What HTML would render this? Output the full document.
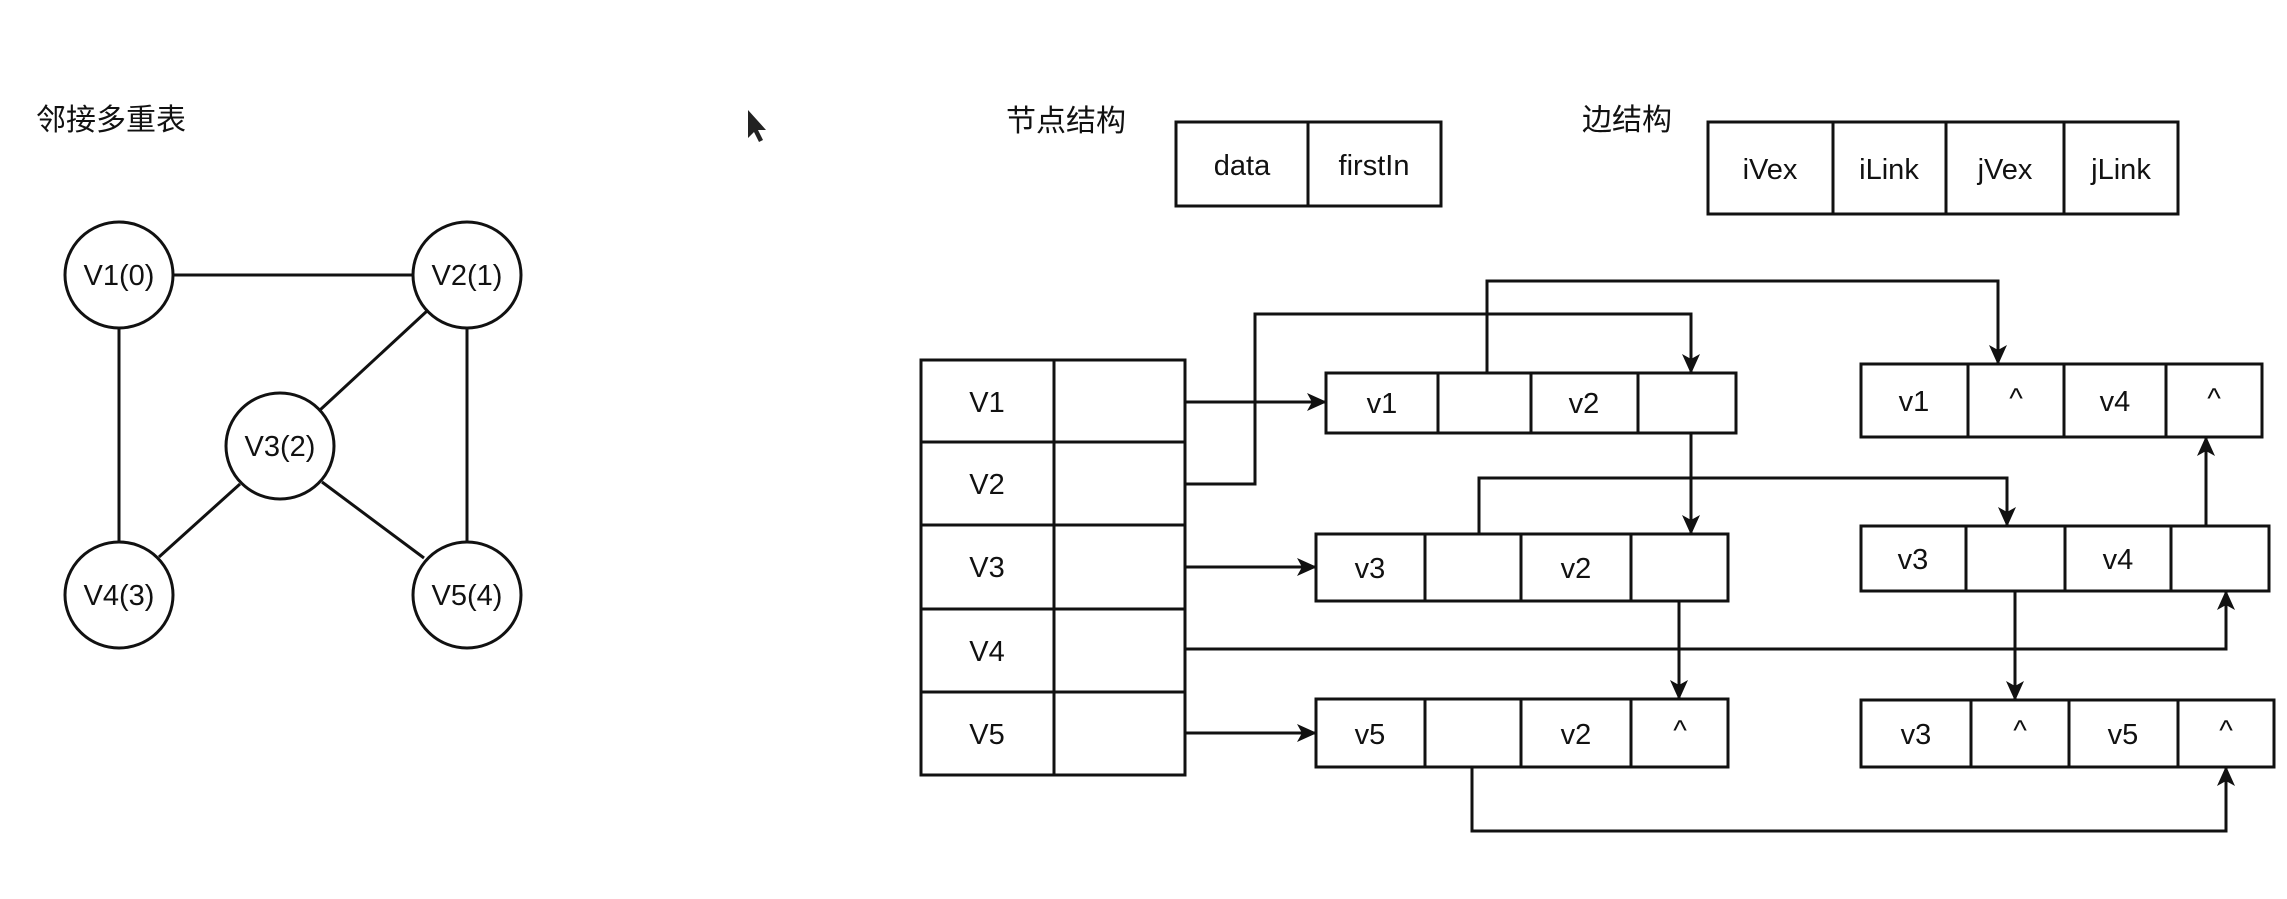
<!DOCTYPE html>
<html><head><meta charset="utf-8"><style>
html,body{margin:0;padding:0;background:#fff;}
svg{display:block;}
text{font-family:"Liberation Sans","Noto Sans CJK SC",sans-serif;fill:#111;}
</style></head><body>
<svg width="2287" height="899" viewBox="0 0 2287 899" xmlns="http://www.w3.org/2000/svg">
<defs>
<marker id="a" viewBox="0 0 20 20" refX="19" refY="10" markerWidth="20" markerHeight="20" markerUnits="userSpaceOnUse" orient="auto">
<path d="M0,1 L20,10 L0,19 L5,10 Z" fill="#111"/>
</marker>
</defs>
<g stroke="#111" stroke-width="3" fill="none">
<!-- graph edges -->
<line x1="173" y1="275" x2="413" y2="275"/>
<line x1="119" y1="329" x2="119" y2="541"/>
<line x1="467" y1="329" x2="467" y2="541"/>
<line x1="427" y1="311" x2="320" y2="410"/>
<line x1="240" y1="484" x2="159" y2="557"/>
<line x1="322" y1="482" x2="424" y2="558"/>
<ellipse cx="119" cy="275" rx="54" ry="53" fill="#fff"/>
<ellipse cx="467" cy="275" rx="54" ry="53" fill="#fff"/>
<ellipse cx="280" cy="446" rx="54" ry="53" fill="#fff"/>
<ellipse cx="119" cy="595" rx="54" ry="53" fill="#fff"/>
<ellipse cx="467" cy="595" rx="54" ry="53" fill="#fff"/>
<!-- struct boxes -->
<rect x="1176" y="122" width="265" height="84"/>
<line x1="1308" y1="122" x2="1308" y2="206"/>
<rect x="1708" y="122" width="470" height="92"/>
<line x1="1833" y1="122" x2="1833" y2="214"/>
<line x1="1946" y1="122" x2="1946" y2="214"/>
<line x1="2064" y1="122" x2="2064" y2="214"/>
<!-- vertex table -->
<rect x="921" y="360" width="264" height="415"/>
<line x1="1054" y1="360" x2="1054" y2="775"/>
<line x1="921" y1="442" x2="1185" y2="442"/>
<line x1="921" y1="525" x2="1185" y2="525"/>
<line x1="921" y1="609" x2="1185" y2="609"/>
<line x1="921" y1="692" x2="1185" y2="692"/>
<!-- edge nodes left -->
<rect x="1326" y="373" width="410" height="60"/>
<line x1="1438" y1="373" x2="1438" y2="433"/>
<line x1="1531" y1="373" x2="1531" y2="433"/>
<line x1="1638" y1="373" x2="1638" y2="433"/>
<rect x="1316" y="534" width="412" height="67"/>
<line x1="1425" y1="534" x2="1425" y2="601"/>
<line x1="1521" y1="534" x2="1521" y2="601"/>
<line x1="1631" y1="534" x2="1631" y2="601"/>
<rect x="1316" y="699" width="412" height="68"/>
<line x1="1425" y1="699" x2="1425" y2="767"/>
<line x1="1521" y1="699" x2="1521" y2="767"/>
<line x1="1631" y1="699" x2="1631" y2="767"/>
<!-- edge nodes right -->
<rect x="1861" y="364" width="401" height="73"/>
<line x1="1968" y1="364" x2="1968" y2="437"/>
<line x1="2064" y1="364" x2="2064" y2="437"/>
<line x1="2166" y1="364" x2="2166" y2="437"/>
<rect x="1861" y="526" width="408" height="65"/>
<line x1="1966" y1="526" x2="1966" y2="591"/>
<line x1="2065" y1="526" x2="2065" y2="591"/>
<line x1="2171" y1="526" x2="2171" y2="591"/>
<rect x="1861" y="700" width="413" height="67"/>
<line x1="1971" y1="700" x2="1971" y2="767"/>
<line x1="2069" y1="700" x2="2069" y2="767"/>
<line x1="2178" y1="700" x2="2178" y2="767"/>
<!-- connectors -->
<polyline points="1185,402 1326,402" marker-end="url(#a)"/>
<polyline points="1185,484 1255,484 1255,314 1691,314 1691,373" marker-end="url(#a)"/>
<polyline points="1487,373 1487,281 1998,281 1998,364" marker-end="url(#a)"/>
<polyline points="1185,567 1316,567" marker-end="url(#a)"/>
<polyline points="1185,733 1316,733" marker-end="url(#a)"/>
<polyline points="1691,433 1691,534" marker-end="url(#a)"/>
<polyline points="1479,534 1479,478 2007,478 2007,526" marker-end="url(#a)"/>
<polyline points="1679,601 1679,699" marker-end="url(#a)"/>
<polyline points="1185,649 2226,649 2226,591" marker-end="url(#a)"/>
<polyline points="2206,526 2206,437" marker-end="url(#a)"/>
<polyline points="2015,591 2015,700" marker-end="url(#a)"/>
<polyline points="1472,767 1472,831 2226,831 2226,767" marker-end="url(#a)"/>
</g>
<!-- cursor -->
<path d="M748,110 L748,138 L754,132 L759,142 L763,140 L758,130 L766,130 Z" fill="#222"/>
<g font-size="30">
<text x="36" y="130">邻接多重表</text>
<text x="1006" y="131">节点结构</text>
<text x="1582" y="130">边结构</text>
</g>
<g font-size="29" text-anchor="middle">
<text x="119" y="285">V1(0)</text>
<text x="467" y="285">V2(1)</text>
<text x="280" y="456">V3(2)</text>
<text x="119" y="605">V4(3)</text>
<text x="467" y="605">V5(4)</text>
<text x="1242" y="175">data</text>
<text x="1374" y="175">firstIn</text>
<text x="1770" y="179">iVex</text>
<text x="1889" y="179">iLink</text>
<text x="2005" y="179">jVex</text>
<text x="2121" y="179">jLink</text>
<text x="987" y="412">V1</text>
<text x="987" y="494">V2</text>
<text x="987" y="577">V3</text>
<text x="987" y="661">V4</text>
<text x="987" y="744">V5</text>
<text x="1382" y="413">v1</text>
<text x="1584" y="413">v2</text>
<text x="1370" y="578">v3</text>
<text x="1576" y="578">v2</text>
<text x="1370" y="744">v5</text>
<text x="1576" y="744">v2</text>
<text x="1680" y="740">^</text>
<text x="1914" y="411">v1</text>
<text x="2016" y="408">^</text>
<text x="2115" y="411">v4</text>
<text x="2214" y="408">^</text>
<text x="1913" y="569">v3</text>
<text x="2118" y="569">v4</text>
<text x="1916" y="744">v3</text>
<text x="2020" y="740">^</text>
<text x="2123" y="744">v5</text>
<text x="2226" y="740">^</text>
</g>
</svg>
</body></html>
